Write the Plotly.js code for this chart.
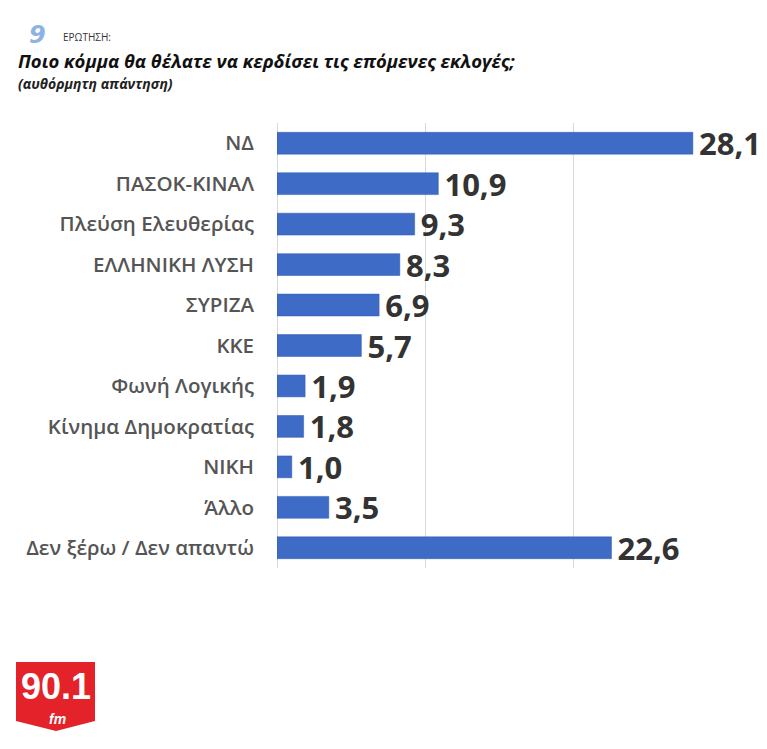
<!DOCTYPE html>
<html><head><meta charset="utf-8">
<script src="https://cdn.plot.ly/plotly-3.0.1.min.js"></script>
<style>body{margin:0;background:#fff}#c{width:767px;height:749px}</style>
</head><body><div id="c"></div>
<script>
const categories = ["ΝΔ","ΠΑΣΟΚ-ΚΙΝΑΛ","Πλεύση Ελευθερίας","ΕΛΛΗΝΙΚΗ ΛΥΣΗ","ΣΥΡΙΖΑ","ΚΚΕ","Φωνή Λογικής","Κίνημα Δημοκρατίας","ΝΙΚΗ","Άλλο","Δεν ξέρω / Δεν απαντώ"];
const values = [28.1,10.9,9.3,8.3,6.9,5.7,1.9,1.8,1.0,3.5,22.6];
const xTicks = [0,10,20,30];

const trace = {
  type:'bar', orientation:'h', y:categories, x:values,
  marker:{color:'#3D6BC6', line:{color:'#2F5AAE', width:0.5}},
  texttemplate:'\u200A%{x:.1f}', textposition:'outside', cliponaxis:false, constraintext:'none',
  textfont:{family:'Open Sans, sans-serif', size:31, color:'#333', weight:'bold'},
  hoverinfo:'none'
};
const px = x => (x-277)/444, py = y => 1-(y-123)/445;
const layout = {
  width:767, height:749, separators:',.',
  margin:{l:277, r:46, t:123, b:181},
  paper_bgcolor:'#fff', plot_bgcolor:'#fff',
  bargap:0.46, showlegend:false,
  xaxis:{range:[0,30], tickvals:xTicks, showticklabels:false, showgrid:true, gridcolor:'#d9d9d9', gridwidth:1, zeroline:true, zerolinecolor:'#d9d9d9', zerolinewidth:1, fixedrange:true},
  yaxis:{autorange:'reversed', tickfont:{family:'Open Sans, sans-serif', size:20.5, color:'#555', weight:600}, ticks:'', ticklabelstandoff:22, fixedrange:true},
  shapes:[{type:'path', xref:'paper', yref:'paper',
    path:'M '+px(16)+' '+py(662)+' L '+px(95)+' '+py(662)+' L '+px(95)+' '+py(721)+' L '+px(56)+' '+py(731)+' L '+px(16)+' '+py(721)+' Z',
    fillcolor:'#E3222A', line:{width:0}}],
  annotations:[
    {xref:'paper', yref:'paper', x:px(38), y:py(35), xanchor:'center', yanchor:'middle', text:'<b><i>9</i></b>', showarrow:false, font:{family:'DejaVu Sans, sans-serif', size:24, color:'#8DB3E2'}},
    {xref:'paper', yref:'paper', x:px(61), y:py(37), xanchor:'left', yanchor:'middle', text:'ΕΡΩΤΗΣΗ:', showarrow:false, font:{family:'Open Sans, sans-serif', size:10, color:'#333'}},
    {xref:'paper', yref:'paper', x:px(16), y:py(60), xanchor:'left', yanchor:'middle', text:'<b><i>Ποιο κόμμα θα θέλατε να κερδίσει τις επόμενες εκλογές;</i></b>', showarrow:false, font:{family:'Open Sans, sans-serif', size:18.5, color:'#111'}},
    {xref:'paper', yref:'paper', x:px(16), y:py(83), xanchor:'left', yanchor:'middle', text:'<b><i>(αυθόρμητη απάντηση)</i></b>', showarrow:false, font:{family:'Open Sans, sans-serif', size:14, color:'#222'}},
    {xref:'paper', yref:'paper', x:px(55.5), y:py(686), xanchor:'center', yanchor:'middle', text:'<b>90.1</b>', showarrow:false, font:{family:'Liberation Sans, sans-serif', size:36, color:'#fff'}},
    {xref:'paper', yref:'paper', x:px(57), y:py(719), xanchor:'center', yanchor:'middle', text:'<b><i>fm</i></b>', showarrow:false, font:{family:'Liberation Sans, sans-serif', size:14, color:'#fff'}}
  ]
};
Plotly.newPlot('c',[trace],layout,{displayModeBar:false,staticPlot:true});
</script></body></html>
